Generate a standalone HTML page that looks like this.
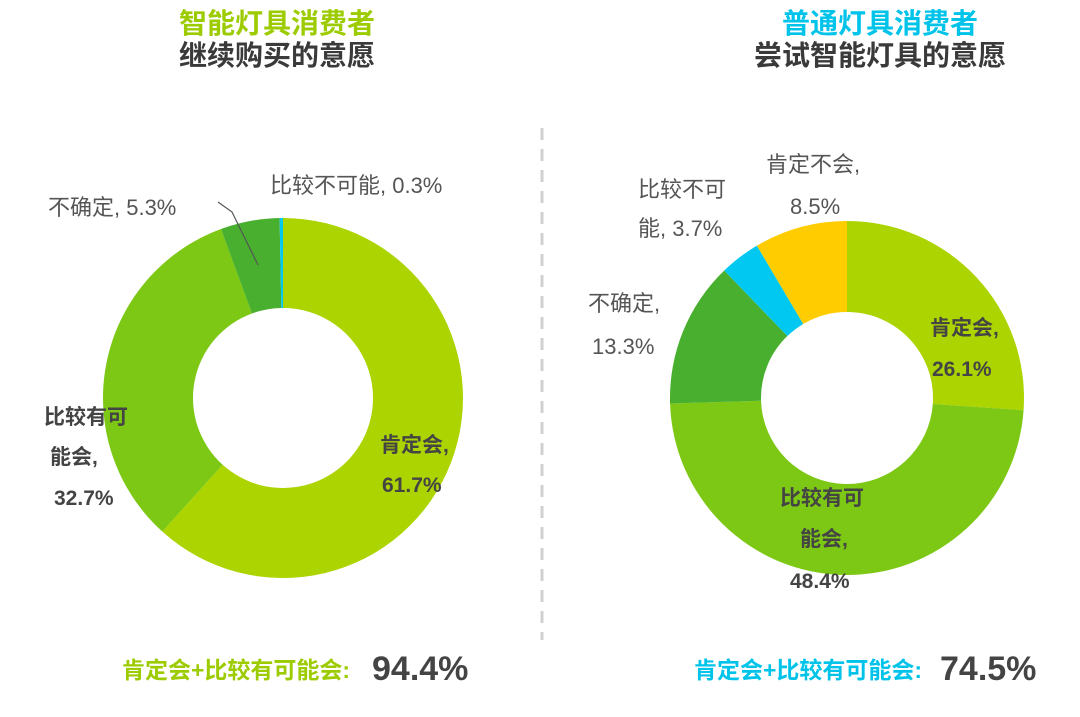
<!DOCTYPE html>
<html><head><meta charset="utf-8"><style>
body{margin:0;background:#fff;width:1080px;height:712px;overflow:hidden}
svg text{font-family:"Liberation Sans","Noto Sans CJK SC",sans-serif}
</style></head><body>
<svg id="s" width="1080" height="712" xmlns="http://www.w3.org/2000/svg">
<text x="277" y="33" text-anchor="middle" font-size="28" font-weight="bold" fill="#9ccc00">智能灯具消费者</text>
<text x="277" y="65" text-anchor="middle" font-size="28" font-weight="bold" fill="#3a3a3a">继续购买的意愿</text>
<text x="880" y="33" text-anchor="middle" font-size="28" font-weight="bold" fill="#00c3ea">普通灯具消费者</text>
<text x="880" y="65" text-anchor="middle" font-size="28" font-weight="bold" fill="#3a3a3a">尝试智能灯具的意愿</text>
<line x1="542" y1="128" x2="542" y2="640" stroke="#d0d0d0" stroke-width="3" stroke-dasharray="12,9"/>
<g id="L"></g><g id="R"></g>
<g font-size="22" fill="#555">
<text x="48" y="215">不确定, 5.3%</text>
<text x="270" y="193">比较不可能, 0.3%</text>
<polyline points="218,202 232,212 258,265" fill="none" stroke="#555" stroke-width="1.2"/>
<text x="638" y="197">比较不可</text><text x="638" y="236">能, 3.7%</text>
<text x="766" y="172">肯定不会,</text><text x="790" y="214">8.5%</text>
<text x="588" y="311">不确定,</text><text x="592" y="354">13.3%</text>
</g>
<g font-size="21" font-weight="bold" fill="#444">
<text x="380" y="452">肯定会,</text><text x="382" y="492">61.7%</text>
<text x="44" y="424">比较有可</text><text x="50" y="464">能会,</text><text x="54" y="505">32.7%</text>
<text x="930" y="335">肯定会,</text><text x="932" y="376">26.1%</text>
<text x="780" y="505">比较有可</text><text x="800" y="546">能会,</text><text x="790" y="588">48.4%</text>
</g>
<text x="122" y="678" font-size="23" font-weight="bold" fill="#9ccc00">肯定会+比较有可能会:</text>
<text x="372" y="680" font-size="34" font-weight="bold" fill="#444">94.4%</text>
<text x="694" y="678" font-size="23" font-weight="bold" fill="#00c3ea">肯定会+比较有可能会:</text>
<text x="940" y="680" font-size="34" font-weight="bold" fill="#444">74.5%</text>
</svg>
<script>
function donut(id,cx,cy,R,r,data){var g=document.getElementById(id),a=0,h='';
data.forEach(function(d){var a0=a,a1=a+d[0]/100*2*Math.PI;a=a1;
function p(rad,t){return [cx+rad*Math.sin(t),cy-rad*Math.cos(t)];}
var l=(a1-a0)>Math.PI?1:0,A=p(R,a0),B=p(R,a1),C=p(r,a1),D=p(r,a0);
h+='<path d="M'+A+' A'+R+','+R+' 0 '+l+' 1 '+B+' L'+C+' A'+r+','+r+' 0 '+l+' 0 '+D+' Z" fill="'+d[1]+'"/>';});
g.innerHTML=h;}
donut('L',283,398,180,90,[[61.7,'#acd400'],[32.7,'#7cc814'],[5.3,'#48b02e'],[0.3,'#00c8f0']]);
donut('R',847,398,177,86,[[26.1,'#acd400'],[48.4,'#7cc814'],[13.3,'#48b02e'],[3.7,'#00c8f0'],[8.5,'#ffcc00']]);
</script>
</body></html>
